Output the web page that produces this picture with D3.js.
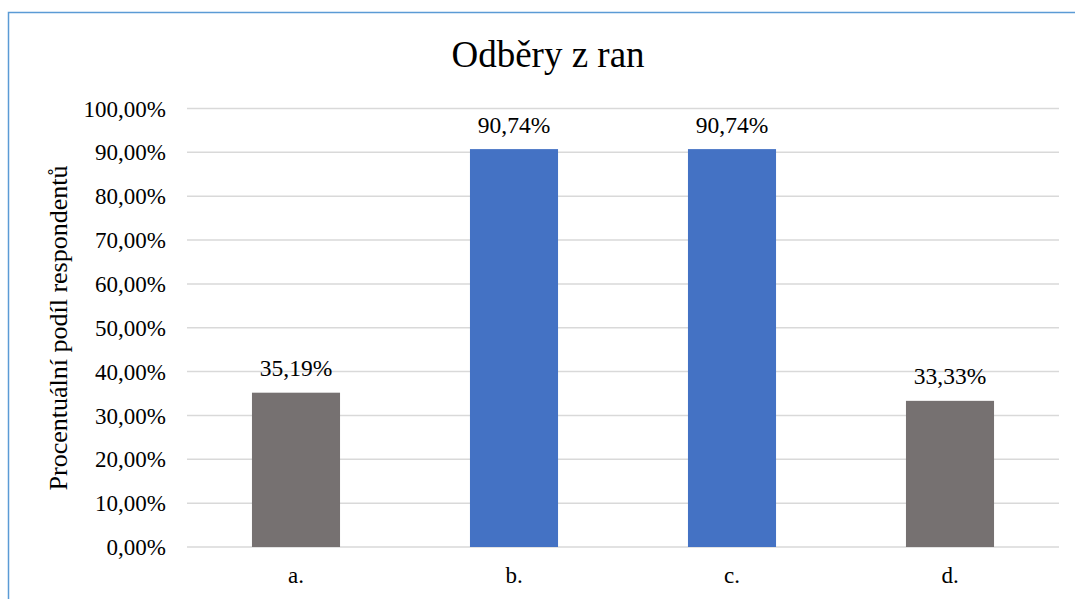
<!DOCTYPE html>
<html><head><meta charset="utf-8">
<script src="https://cdn.jsdelivr.net/npm/d3@7"></script>
<style>html,body{margin:0;padding:0;background:#fff;}svg{display:block;}</style>
</head><body>
<svg id="chart" width="1075" height="599"></svg>
<script>
const title = "Odběry z ran";
const yAxisTitle = "Procentuální podíl respondentů";
const categories = ["a.", "b.", "c.", "d."];
const values = [35.19, 90.74, 90.74, 33.33];
const barColors = ["#767171", "#4472C4", "#4472C4", "#767171"];
const yTicks = [0,10,20,30,40,50,60,70,80,90,100];

const svg = d3.select("#chart");
const font = "'Liberation Serif','Times New Roman',serif";
const plotL = 187, plotR = 1059, plotT = 108.5, plotB = 547;

// frame
svg.append("path").attr("d","M8.5,599 L8.5,12.5 L1075,12.5")
  .attr("fill","none").attr("stroke","#5B9BD5").attr("stroke-width",1.5);

const x = d3.scaleBand().domain(categories).range([plotL,plotR]).paddingInner(0.596).paddingOuter(0.298);
const y = d3.scaleLinear().domain([0,100]).range([plotB,plotT]);

const fmt = v => d3.format(".2f")(v).replace(".", ",") + "%";

// gridlines
svg.append("g").selectAll("line").data(yTicks).join("line")
  .attr("x1",plotL).attr("x2",plotR)
  .attr("y1",d=>y(d)).attr("y2",d=>y(d))
  .attr("stroke","#D9D9D9").attr("stroke-width",1.5);

// y axis labels
const yAxis = d3.axisLeft(y).tickValues(yTicks).tickFormat(fmt).tickSize(0).tickPadding(21);
const gy = svg.append("g").attr("transform",`translate(${plotL},0)`).call(yAxis);
gy.select(".domain").remove();
gy.selectAll("text").attr("font-family",font).attr("font-size",23).attr("fill","#000").attr("dy","0.33em");

// x axis labels
const xAxis = d3.axisBottom(x).tickSize(0).tickPadding(20);
const gx = svg.append("g").attr("transform",`translate(0,${plotB})`).call(xAxis);
gx.select(".domain").remove();
gx.selectAll("text").attr("font-family",font).attr("font-size",23).attr("fill","#000").attr("dy","0.71em");

// bars
svg.append("g").selectAll("rect").data(categories).join("rect")
  .attr("x",d=>x(d)).attr("width",x.bandwidth())
  .attr("y",(d,i)=>y(values[i])).attr("height",(d,i)=>y(0)-y(values[i]))
  .attr("fill",(d,i)=>barColors[i]);

// value labels
svg.append("g").selectAll("text").data(categories).join("text")
  .attr("x",d=>x(d)+x.bandwidth()/2).attr("y",(d,i)=>y(values[i])-16.5)
  .attr("text-anchor","middle").attr("font-family",font).attr("font-size",23.5).attr("fill","#000")
  .text((d,i)=>fmt(values[i]));

// title
svg.append("text").attr("x",548).attr("y",67).attr("text-anchor","middle")
  .attr("font-family",font).attr("font-size",37).attr("fill","#000").text(title);

// y axis title
svg.append("text").attr("transform","translate(67,328) rotate(-90)").attr("text-anchor","middle")
  .attr("font-family",font).attr("font-size",26).attr("fill","#000").text(yAxisTitle);
</script>
</body></html>
